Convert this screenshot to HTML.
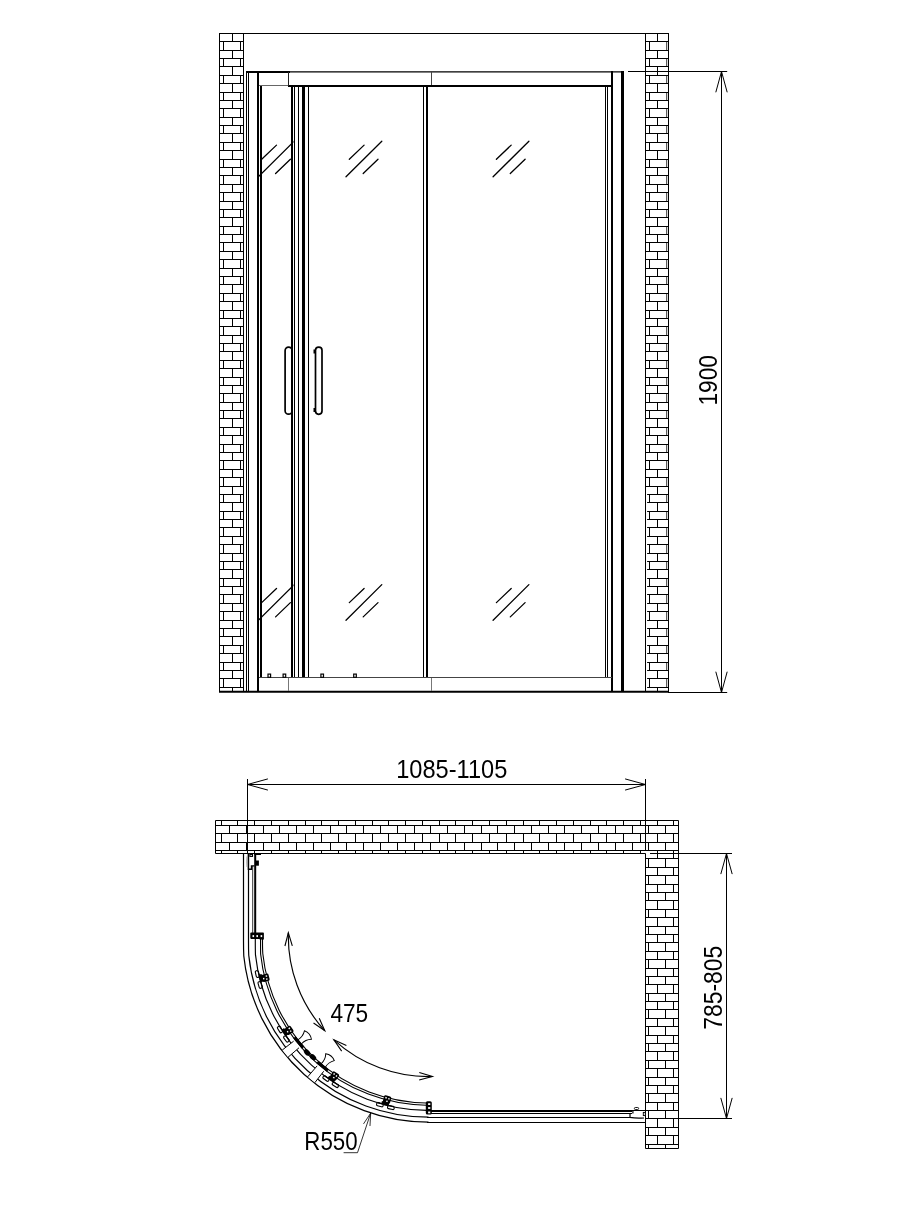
<!DOCTYPE html>
<html><head><meta charset="utf-8"><title>Shower enclosure drawing</title>
<style>html,body{margin:0;padding:0;background:#fff}svg{display:block;filter:grayscale(1)}text{font-family:"Liberation Sans",sans-serif;fill:#000}</style>
</head><body>
<svg width="914" height="1217" viewBox="0 0 914 1217">
<rect width="914" height="1217" fill="#fff"/>
<path d="M219 41.5H244M645 41.5H669M219 50.5H244M645 50.5H669M219 58.5H244M645 58.5H669M219 66.5H244M645 66.5H669M219 75.5H244M645 75.5H669M219 83.5H244M645 83.5H669M219 92.5H244M645 92.5H669M219 100.5H244M645 100.5H669M219 108.5H244M645 108.5H669M219 117.5H244M645 117.5H669M219 125.5H244M645 125.5H669M219 133.5H244M645 133.5H669M219 142.5H244M645 142.5H669M219 150.5H244M645 150.5H669M219 159.5H244M645 159.5H669M219 167.5H244M645 167.5H669M219 175.5H244M645 175.5H669M219 184.5H244M645 184.5H669M219 192.5H244M645 192.5H669M219 201.5H244M645 201.5H669M219 209.5H244M645 209.5H669M219 217.5H244M645 217.5H669M219 226.5H244M645 226.5H669M219 234.5H244M645 234.5H669M219 242.5H244M645 242.5H669M219 251.5H244M645 251.5H669M219 259.5H244M645 259.5H669M219 268.5H244M645 268.5H669M219 276.5H244M645 276.5H669M219 284.5H244M645 284.5H669M219 293.5H244M645 293.5H669M219 301.5H244M645 301.5H669M219 310.5H244M645 310.5H669M219 318.5H244M645 318.5H669M219 326.5H244M645 326.5H669M219 335.5H244M645 335.5H669M219 343.5H244M645 343.5H669M219 351.5H244M645 351.5H669M219 360.5H244M645 360.5H669M219 368.5H244M645 368.5H669M219 377.5H244M645 377.5H669M219 385.5H244M645 385.5H669M219 393.5H244M645 393.5H669M219 402.5H244M645 402.5H669M219 410.5H244M645 410.5H669M219 418.5H244M645 418.5H669M219 427.5H244M645 427.5H669M219 435.5H244M645 435.5H669M219 444.5H244M645 444.5H669M219 452.5H244M645 452.5H669M219 460.5H244M645 460.5H669M219 469.5H244M645 469.5H669M219 477.5H244M645 477.5H669M219 486.5H244M645 486.5H669M219 494.5H244M647.1 494.5H669M219 502.5H244M647.1 502.5H669M219 511.5H244M647.1 511.5H669M219 519.5H244M647.1 519.5H669M219 527.5H244M647.1 527.5H669M219 536.5H244M647.1 536.5H669M219 544.5H244M647.1 544.5H669M219 553.5H244M647.1 553.5H669M219 561.5H244M647.1 561.5H669M219 569.5H244M647.1 569.5H669M219 578.5H244M647.1 578.5H669M219 586.5H244M647.1 586.5H669M219 594.5H244M647.1 594.5H669M219 603.5H244M647.1 603.5H669M219 611.5H244M647.1 611.5H669M219 620.5H244M647.1 620.5H669M219 628.5H244M647.1 628.5H669M219 636.5H244M647.1 636.5H669M219 645.5H244M647.1 645.5H669M219 653.5H244M647.1 653.5H669M219 662.5H244M647.1 662.5H669M219 670.5H244M647.1 670.5H669M219 678.5H244M647.1 678.5H669M219 687.5H244M647.1 687.5H669M232.5 33V41M657.5 33V41M223.5 41V50M240.5 41V50M649.5 41V50M232.5 50V58M657.5 50V58M223.5 58V66M240.5 58V66M649.5 58V66M232.5 66V75M657.5 66V75M223.5 75V83M240.5 75V83M649.5 75V83M232.5 83V92M657.5 83V92M223.5 92V100M240.5 92V100M649.5 92V100M232.5 100V108M657.5 100V108M223.5 108V117M240.5 108V117M649.5 108V117M232.5 117V125M657.5 117V125M223.5 125V133M240.5 125V133M649.5 125V133M232.5 133V142M657.5 133V142M223.5 142V150M240.5 142V150M649.5 142V150M232.5 150V159M657.5 150V159M223.5 159V167M240.5 159V167M649.5 159V167M232.5 167V175M657.5 167V175M223.5 175V184M240.5 175V184M649.5 175V184M232.5 184V192M657.5 184V192M223.5 192V201M240.5 192V201M649.5 192V201M232.5 201V209M657.5 201V209M223.5 209V217M240.5 209V217M649.5 209V217M232.5 217V226M657.5 217V226M223.5 226V234M240.5 226V234M649.5 226V234M232.5 234V242M657.5 234V242M223.5 242V251M240.5 242V251M649.5 242V251M232.5 251V259M657.5 251V259M223.5 259V268M240.5 259V268M649.5 259V268M232.5 268V276M657.5 268V276M223.5 276V284M240.5 276V284M649.5 276V284M232.5 284V293M657.5 284V293M223.5 293V301M240.5 293V301M649.5 293V301M232.5 301V310M657.5 301V310M223.5 310V318M240.5 310V318M649.5 310V318M232.5 318V326M657.5 318V326M223.5 326V335M240.5 326V335M649.5 326V335M232.5 335V343M657.5 335V343M223.5 343V351M240.5 343V351M649.5 343V351M232.5 351V360M657.5 351V360M223.5 360V368M240.5 360V368M649.5 360V368M232.5 368V377M657.5 368V377M223.5 377V385M240.5 377V385M649.5 377V385M232.5 385V393M657.5 385V393M223.5 393V402M240.5 393V402M649.5 393V402M232.5 402V410M657.5 402V410M223.5 410V418M240.5 410V418M649.5 410V418M232.5 418V427M657.5 418V427M223.5 427V435M240.5 427V435M649.5 427V435M232.5 435V444M657.5 435V444M223.5 444V452M240.5 444V452M649.5 444V452M232.5 452V460M657.5 452V460M223.5 460V469M240.5 460V469M649.5 460V469M232.5 469V477M657.5 469V477M223.5 477V486M240.5 477V486M649.5 477V486M232.5 486V494M657.5 486V494M223.5 494V502M240.5 494V502M649.5 494V502M232.5 502V511M657.5 502V511M223.5 511V519M240.5 511V519M649.5 511V519M232.5 519V527M657.5 519V527M223.5 527V536M240.5 527V536M649.5 527V536M232.5 536V544M657.5 536V544M223.5 544V553M240.5 544V553M649.5 544V553M232.5 553V561M657.5 553V561M223.5 561V569M240.5 561V569M649.5 561V569M232.5 569V578M657.5 569V578M223.5 578V586M240.5 578V586M649.5 578V586M232.5 586V594M657.5 586V594M223.5 594V603M240.5 594V603M649.5 594V603M232.5 603V611M657.5 603V611M223.5 611V620M240.5 611V620M649.5 611V620M232.5 620V628M657.5 620V628M223.5 628V636M240.5 628V636M649.5 628V636M232.5 636V645M657.5 636V645M223.5 645V653M240.5 645V653M649.5 645V653M232.5 653V662M657.5 653V662M223.5 662V670M240.5 662V670M649.5 662V670M232.5 670V678M657.5 670V678M223.5 678V687M240.5 678V687M649.5 678V687M232.5 687V692M657.5 687V692" stroke="#000" stroke-width="1" fill="none" />
<path d="M666.7 41V50M666.7 58V66M666.7 75V83M666.7 92V100M666.7 108V117M666.7 125V133M666.7 142V150M666.7 159V167M666.7 175V184M666.7 192V201M666.7 209V217M666.7 226V234M666.7 242V251M666.7 259V268M666.7 276V284M666.7 293V301M666.7 310V318M666.7 326V335M666.7 343V351M666.7 360V368M666.7 377V385M666.7 393V402M666.7 410V418M666.7 427V435M666.7 444V452M666.7 460V469M666.7 477V486M666.7 494V502M666.7 511V519M666.7 527V536M666.7 544V553M666.7 561V569M666.7 578V586M666.7 594V603M666.7 611V620M666.7 628V636M666.7 645V653M666.7 662V670M666.7 678V687" stroke="#000" stroke-width="0.8" fill="none" />
<line x1="219.5" y1="33" x2="219.5" y2="692" stroke="#000" stroke-width="1" />
<line x1="243.5" y1="33" x2="243.5" y2="692" stroke="#000" stroke-width="1" />
<line x1="645.5" y1="33" x2="645.5" y2="692" stroke="#000" stroke-width="1" />
<line x1="668.5" y1="33" x2="668.5" y2="692" stroke="#000" stroke-width="1" />
<line x1="219" y1="33.5" x2="669" y2="33.5" stroke="#000" stroke-width="1" />
<line x1="219" y1="691.8" x2="669" y2="691.8" stroke="#000" stroke-width="2.1" />
<line x1="668" y1="692.5" x2="727.2" y2="692.5" stroke="#000" stroke-width="1" />
<line x1="246.5" y1="71" x2="246.5" y2="692" stroke="#000" stroke-width="1" />
<line x1="248.5" y1="71" x2="248.5" y2="692" stroke="#000" stroke-width="1" />
<line x1="258" y1="71" x2="258" y2="692" stroke="#000" stroke-width="2" />
<line x1="261" y1="86" x2="261" y2="677" stroke="#000" stroke-width="2" />
<line x1="292" y1="86" x2="292" y2="677.5" stroke="#000" stroke-width="2" />
<line x1="294.5" y1="86" x2="294.5" y2="677.5" stroke="#000" stroke-width="1" />
<line x1="298.5" y1="86" x2="298.5" y2="677.5" stroke="#000" stroke-width="1" />
<line x1="303.5" y1="86" x2="303.5" y2="677.5" stroke="#000" stroke-width="3" />
<line x1="308.5" y1="86" x2="308.5" y2="677.5" stroke="#000" stroke-width="1" />
<line x1="423.5" y1="86" x2="423.5" y2="677.5" stroke="#000" stroke-width="1" />
<line x1="427" y1="86" x2="427" y2="677.5" stroke="#000" stroke-width="2" />
<line x1="605.5" y1="86" x2="605.5" y2="677.5" stroke="#000" stroke-width="1" />
<line x1="607.5" y1="86" x2="607.5" y2="677.5" stroke="#000" stroke-width="1" />
<line x1="612" y1="71" x2="612" y2="692" stroke="#000" stroke-width="2" />
<line x1="622.5" y1="71" x2="622.5" y2="692" stroke="#000" stroke-width="3" />
<line x1="246" y1="72" x2="290" y2="72" stroke="#000" stroke-width="2" />
<line x1="289" y1="71.85" x2="624" y2="71.85" stroke="#000" stroke-width="1.3" />
<line x1="259" y1="85.5" x2="289" y2="85.5" stroke="#666" stroke-width="1" />
<line x1="288" y1="86" x2="613" y2="86" stroke="#000" stroke-width="2" />
<line x1="288.5" y1="72" x2="288.5" y2="86" stroke="#222" stroke-width="1" />
<line x1="431.5" y1="72" x2="431.5" y2="85" stroke="#444" stroke-width="1" />
<line x1="259" y1="677.5" x2="612" y2="677.5" stroke="#444" stroke-width="1" />
<line x1="288.5" y1="678" x2="288.5" y2="691" stroke="#777" stroke-width="1" />
<line x1="431.5" y1="678" x2="431.5" y2="691" stroke="#777" stroke-width="1" />
<rect x="268.00" y="674.10" width="2.6" height="3.2" fill="#fff" stroke="#000" stroke-width="1.2"/>
<rect x="283.10" y="674.10" width="2.6" height="3.2" fill="#fff" stroke="#000" stroke-width="1.2"/>
<rect x="320.90" y="674.10" width="2.6" height="3.2" fill="#fff" stroke="#000" stroke-width="1.2"/>
<rect x="353.70" y="674.10" width="2.6" height="3.2" fill="#fff" stroke="#000" stroke-width="1.2"/>
<rect x="285.1" y="347.2" width="7" height="67.0" rx="3.5" ry="3.5" fill="none" stroke="#000" stroke-width="1.7"/>
<rect x="315.5" y="347.1" width="6.5" height="67.2" rx="3.25" ry="3.25" fill="none" stroke="#000" stroke-width="1.7"/>
<path d="M314.3 349.5V353.5M314.3 408V412" stroke="#000" stroke-width="1.6" fill="none" />
<clipPath id="cl"><rect x="259" y="100" width="34.5" height="560"/></clipPath>
<path d="M261.70 159.20L276.50 145.10M258.40 176.80L294.20 141.20M275.60 173.50L290.40 159.20" stroke="#000" stroke-width="1.3" fill="none" clip-path="url(#cl)" stroke-linecap="round"/>
<path d="M349.30 159.20L364.10 145.10M346.00 176.80L381.80 141.20M363.20 173.50L378.00 159.20" stroke="#000" stroke-width="1.3" fill="none"  stroke-linecap="round"/>
<path d="M496.40 159.20L511.20 145.10M493.10 176.80L528.90 141.20M510.30 173.50L525.10 159.20" stroke="#000" stroke-width="1.3" fill="none"  stroke-linecap="round"/>
<path d="M261.70 602.60L276.50 588.50M258.40 620.20L294.20 584.60M275.60 616.90L290.40 602.60" stroke="#000" stroke-width="1.3" fill="none" clip-path="url(#cl)" stroke-linecap="round"/>
<path d="M349.30 602.60L364.10 588.50M346.00 620.20L381.80 584.60M363.20 616.90L378.00 602.60" stroke="#000" stroke-width="1.3" fill="none"  stroke-linecap="round"/>
<path d="M496.40 602.60L511.20 588.50M493.10 620.20L528.90 584.60M510.30 616.90L525.10 602.60" stroke="#000" stroke-width="1.3" fill="none"  stroke-linecap="round"/>
<line x1="628" y1="71.5" x2="727.2" y2="71.5" stroke="#000" stroke-width="1" />
<line x1="721.5" y1="71" x2="721.5" y2="692" stroke="#000" stroke-width="1" />
<path d="M727.20 92.30L721.50 71.50L715.80 92.30" stroke="#000" stroke-width="1" fill="none" stroke-linejoin="miter"/>
<path d="M715.80 671.70L721.50 692.50L727.20 671.70" stroke="#000" stroke-width="1" fill="none" stroke-linejoin="miter"/>
<text transform="translate(717.20 405.60) rotate(-90) scale(0.907 1)" font-size="25.1">1900</text>
<clipPath id="wl"><path d="M215 820H679V1149H645V854H215Z"/></clipPath>
<path d="M215 825.5H679M215 833.5H679M215 842.5H679M215 850.5H679M215 858.5H679M215 867.5H679M215 875.5H679M215 884.5H679M215 892.5H679M215 900.5H679M215 909.5H679M215 917.5H679M215 926.5H679M215 934.5H679M215 942.5H679M215 951.5H679M215 959.5H679M215 968.5H679M215 976.5H679M215 984.5H679M215 993.5H679M215 1001.5H679M215 1009.5H679M215 1018.5H679M215 1026.5H679M215 1035.5H679M215 1043.5H679M215 1051.5H679M215 1060.5H679M215 1068.5H679M215 1077.5H679M215 1085.5H679M215 1093.5H679M215 1102.5H679M215 1110.5H679M215 1118.5H679M215 1127.5H679M215 1135.5H679M215 1144.5H679M187.5 820V825M204.5 820V825M221.5 820V825M237.5 820V825M254.5 820V825M271.5 820V825M288.5 820V825M305.5 820V825M321.5 820V825M338.5 820V825M355.5 820V825M372.5 820V825M388.5 820V825M405.5 820V825M422.5 820V825M439.5 820V825M455.5 820V825M472.5 820V825M489.5 820V825M506.5 820V825M523.5 820V825M539.5 820V825M556.5 820V825M573.5 820V825M590.5 820V825M606.5 820V825M623.5 820V825M640.5 820V825M657.5 820V825M673.5 820V825M690.5 820V825M195.5 825V833M212.5 825V833M229.5 825V833M246.5 825V833M263.5 825V833M279.5 825V833M296.5 825V833M313.5 825V833M330.5 825V833M346.5 825V833M363.5 825V833M380.5 825V833M397.5 825V833M414.5 825V833M430.5 825V833M447.5 825V833M464.5 825V833M481.5 825V833M497.5 825V833M514.5 825V833M531.5 825V833M548.5 825V833M564.5 825V833M581.5 825V833M598.5 825V833M615.5 825V833M632.5 825V833M648.5 825V833M665.5 825V833M682.5 825V833M187.5 833V842M204.5 833V842M221.5 833V842M237.5 833V842M254.5 833V842M271.5 833V842M288.5 833V842M305.5 833V842M321.5 833V842M338.5 833V842M355.5 833V842M372.5 833V842M388.5 833V842M405.5 833V842M422.5 833V842M439.5 833V842M455.5 833V842M472.5 833V842M489.5 833V842M506.5 833V842M523.5 833V842M539.5 833V842M556.5 833V842M573.5 833V842M590.5 833V842M606.5 833V842M623.5 833V842M640.5 833V842M657.5 833V842M673.5 833V842M690.5 833V842M195.5 842V850M212.5 842V850M229.5 842V850M246.5 842V850M263.5 842V850M279.5 842V850M296.5 842V850M313.5 842V850M330.5 842V850M346.5 842V850M363.5 842V850M380.5 842V850M397.5 842V850M414.5 842V850M430.5 842V850M447.5 842V850M464.5 842V850M481.5 842V850M497.5 842V850M514.5 842V850M531.5 842V850M548.5 842V850M564.5 842V850M581.5 842V850M598.5 842V850M615.5 842V850M632.5 842V850M648.5 842V850M665.5 842V850M682.5 842V850M187.5 850V858M204.5 850V858M221.5 850V858M237.5 850V858M254.5 850V858M271.5 850V858M288.5 850V858M305.5 850V858M321.5 850V858M338.5 850V858M355.5 850V858M372.5 850V858M388.5 850V858M405.5 850V858M422.5 850V858M439.5 850V858M455.5 850V858M472.5 850V858M489.5 850V858M506.5 850V858M523.5 850V858M539.5 850V858M556.5 850V858M573.5 850V858M590.5 850V858M606.5 850V858M623.5 850V858M640.5 850V858M657.5 850V858M673.5 850V858M690.5 850V858M195.5 858V867M212.5 858V867M229.5 858V867M246.5 858V867M263.5 858V867M279.5 858V867M296.5 858V867M313.5 858V867M330.5 858V867M346.5 858V867M363.5 858V867M380.5 858V867M397.5 858V867M414.5 858V867M430.5 858V867M447.5 858V867M464.5 858V867M481.5 858V867M497.5 858V867M514.5 858V867M531.5 858V867M548.5 858V867M564.5 858V867M581.5 858V867M598.5 858V867M615.5 858V867M632.5 858V867M648.5 858V867M665.5 858V867M682.5 858V867M187.5 867V875M204.5 867V875M221.5 867V875M237.5 867V875M254.5 867V875M271.5 867V875M288.5 867V875M305.5 867V875M321.5 867V875M338.5 867V875M355.5 867V875M372.5 867V875M388.5 867V875M405.5 867V875M422.5 867V875M439.5 867V875M455.5 867V875M472.5 867V875M489.5 867V875M506.5 867V875M523.5 867V875M539.5 867V875M556.5 867V875M573.5 867V875M590.5 867V875M606.5 867V875M623.5 867V875M640.5 867V875M657.5 867V875M673.5 867V875M690.5 867V875M195.5 875V884M212.5 875V884M229.5 875V884M246.5 875V884M263.5 875V884M279.5 875V884M296.5 875V884M313.5 875V884M330.5 875V884M346.5 875V884M363.5 875V884M380.5 875V884M397.5 875V884M414.5 875V884M430.5 875V884M447.5 875V884M464.5 875V884M481.5 875V884M497.5 875V884M514.5 875V884M531.5 875V884M548.5 875V884M564.5 875V884M581.5 875V884M598.5 875V884M615.5 875V884M632.5 875V884M648.5 875V884M665.5 875V884M682.5 875V884M187.5 884V892M204.5 884V892M221.5 884V892M237.5 884V892M254.5 884V892M271.5 884V892M288.5 884V892M305.5 884V892M321.5 884V892M338.5 884V892M355.5 884V892M372.5 884V892M388.5 884V892M405.5 884V892M422.5 884V892M439.5 884V892M455.5 884V892M472.5 884V892M489.5 884V892M506.5 884V892M523.5 884V892M539.5 884V892M556.5 884V892M573.5 884V892M590.5 884V892M606.5 884V892M623.5 884V892M640.5 884V892M657.5 884V892M673.5 884V892M690.5 884V892M195.5 892V900M212.5 892V900M229.5 892V900M246.5 892V900M263.5 892V900M279.5 892V900M296.5 892V900M313.5 892V900M330.5 892V900M346.5 892V900M363.5 892V900M380.5 892V900M397.5 892V900M414.5 892V900M430.5 892V900M447.5 892V900M464.5 892V900M481.5 892V900M497.5 892V900M514.5 892V900M531.5 892V900M548.5 892V900M564.5 892V900M581.5 892V900M598.5 892V900M615.5 892V900M632.5 892V900M648.5 892V900M665.5 892V900M682.5 892V900M187.5 900V909M204.5 900V909M221.5 900V909M237.5 900V909M254.5 900V909M271.5 900V909M288.5 900V909M305.5 900V909M321.5 900V909M338.5 900V909M355.5 900V909M372.5 900V909M388.5 900V909M405.5 900V909M422.5 900V909M439.5 900V909M455.5 900V909M472.5 900V909M489.5 900V909M506.5 900V909M523.5 900V909M539.5 900V909M556.5 900V909M573.5 900V909M590.5 900V909M606.5 900V909M623.5 900V909M640.5 900V909M657.5 900V909M673.5 900V909M690.5 900V909M195.5 909V917M212.5 909V917M229.5 909V917M246.5 909V917M263.5 909V917M279.5 909V917M296.5 909V917M313.5 909V917M330.5 909V917M346.5 909V917M363.5 909V917M380.5 909V917M397.5 909V917M414.5 909V917M430.5 909V917M447.5 909V917M464.5 909V917M481.5 909V917M497.5 909V917M514.5 909V917M531.5 909V917M548.5 909V917M564.5 909V917M581.5 909V917M598.5 909V917M615.5 909V917M632.5 909V917M648.5 909V917M665.5 909V917M682.5 909V917M187.5 917V926M204.5 917V926M221.5 917V926M237.5 917V926M254.5 917V926M271.5 917V926M288.5 917V926M305.5 917V926M321.5 917V926M338.5 917V926M355.5 917V926M372.5 917V926M388.5 917V926M405.5 917V926M422.5 917V926M439.5 917V926M455.5 917V926M472.5 917V926M489.5 917V926M506.5 917V926M523.5 917V926M539.5 917V926M556.5 917V926M573.5 917V926M590.5 917V926M606.5 917V926M623.5 917V926M640.5 917V926M657.5 917V926M673.5 917V926M690.5 917V926M195.5 926V934M212.5 926V934M229.5 926V934M246.5 926V934M263.5 926V934M279.5 926V934M296.5 926V934M313.5 926V934M330.5 926V934M346.5 926V934M363.5 926V934M380.5 926V934M397.5 926V934M414.5 926V934M430.5 926V934M447.5 926V934M464.5 926V934M481.5 926V934M497.5 926V934M514.5 926V934M531.5 926V934M548.5 926V934M564.5 926V934M581.5 926V934M598.5 926V934M615.5 926V934M632.5 926V934M648.5 926V934M665.5 926V934M682.5 926V934M187.5 934V942M204.5 934V942M221.5 934V942M237.5 934V942M254.5 934V942M271.5 934V942M288.5 934V942M305.5 934V942M321.5 934V942M338.5 934V942M355.5 934V942M372.5 934V942M388.5 934V942M405.5 934V942M422.5 934V942M439.5 934V942M455.5 934V942M472.5 934V942M489.5 934V942M506.5 934V942M523.5 934V942M539.5 934V942M556.5 934V942M573.5 934V942M590.5 934V942M606.5 934V942M623.5 934V942M640.5 934V942M657.5 934V942M673.5 934V942M690.5 934V942M195.5 942V951M212.5 942V951M229.5 942V951M246.5 942V951M263.5 942V951M279.5 942V951M296.5 942V951M313.5 942V951M330.5 942V951M346.5 942V951M363.5 942V951M380.5 942V951M397.5 942V951M414.5 942V951M430.5 942V951M447.5 942V951M464.5 942V951M481.5 942V951M497.5 942V951M514.5 942V951M531.5 942V951M548.5 942V951M564.5 942V951M581.5 942V951M598.5 942V951M615.5 942V951M632.5 942V951M648.5 942V951M665.5 942V951M682.5 942V951M187.5 951V959M204.5 951V959M221.5 951V959M237.5 951V959M254.5 951V959M271.5 951V959M288.5 951V959M305.5 951V959M321.5 951V959M338.5 951V959M355.5 951V959M372.5 951V959M388.5 951V959M405.5 951V959M422.5 951V959M439.5 951V959M455.5 951V959M472.5 951V959M489.5 951V959M506.5 951V959M523.5 951V959M539.5 951V959M556.5 951V959M573.5 951V959M590.5 951V959M606.5 951V959M623.5 951V959M640.5 951V959M657.5 951V959M673.5 951V959M690.5 951V959M195.5 959V968M212.5 959V968M229.5 959V968M246.5 959V968M263.5 959V968M279.5 959V968M296.5 959V968M313.5 959V968M330.5 959V968M346.5 959V968M363.5 959V968M380.5 959V968M397.5 959V968M414.5 959V968M430.5 959V968M447.5 959V968M464.5 959V968M481.5 959V968M497.5 959V968M514.5 959V968M531.5 959V968M548.5 959V968M564.5 959V968M581.5 959V968M598.5 959V968M615.5 959V968M632.5 959V968M648.5 959V968M665.5 959V968M682.5 959V968M187.5 968V976M204.5 968V976M221.5 968V976M237.5 968V976M254.5 968V976M271.5 968V976M288.5 968V976M305.5 968V976M321.5 968V976M338.5 968V976M355.5 968V976M372.5 968V976M388.5 968V976M405.5 968V976M422.5 968V976M439.5 968V976M455.5 968V976M472.5 968V976M489.5 968V976M506.5 968V976M523.5 968V976M539.5 968V976M556.5 968V976M573.5 968V976M590.5 968V976M606.5 968V976M623.5 968V976M640.5 968V976M657.5 968V976M673.5 968V976M690.5 968V976M195.5 976V984M212.5 976V984M229.5 976V984M246.5 976V984M263.5 976V984M279.5 976V984M296.5 976V984M313.5 976V984M330.5 976V984M346.5 976V984M363.5 976V984M380.5 976V984M397.5 976V984M414.5 976V984M430.5 976V984M447.5 976V984M464.5 976V984M481.5 976V984M497.5 976V984M514.5 976V984M531.5 976V984M548.5 976V984M564.5 976V984M581.5 976V984M598.5 976V984M615.5 976V984M632.5 976V984M648.5 976V984M665.5 976V984M682.5 976V984M187.5 984V993M204.5 984V993M221.5 984V993M237.5 984V993M254.5 984V993M271.5 984V993M288.5 984V993M305.5 984V993M321.5 984V993M338.5 984V993M355.5 984V993M372.5 984V993M388.5 984V993M405.5 984V993M422.5 984V993M439.5 984V993M455.5 984V993M472.5 984V993M489.5 984V993M506.5 984V993M523.5 984V993M539.5 984V993M556.5 984V993M573.5 984V993M590.5 984V993M606.5 984V993M623.5 984V993M640.5 984V993M657.5 984V993M673.5 984V993M690.5 984V993M195.5 993V1001M212.5 993V1001M229.5 993V1001M246.5 993V1001M263.5 993V1001M279.5 993V1001M296.5 993V1001M313.5 993V1001M330.5 993V1001M346.5 993V1001M363.5 993V1001M380.5 993V1001M397.5 993V1001M414.5 993V1001M430.5 993V1001M447.5 993V1001M464.5 993V1001M481.5 993V1001M497.5 993V1001M514.5 993V1001M531.5 993V1001M548.5 993V1001M564.5 993V1001M581.5 993V1001M598.5 993V1001M615.5 993V1001M632.5 993V1001M648.5 993V1001M665.5 993V1001M682.5 993V1001M187.5 1001V1009M204.5 1001V1009M221.5 1001V1009M237.5 1001V1009M254.5 1001V1009M271.5 1001V1009M288.5 1001V1009M305.5 1001V1009M321.5 1001V1009M338.5 1001V1009M355.5 1001V1009M372.5 1001V1009M388.5 1001V1009M405.5 1001V1009M422.5 1001V1009M439.5 1001V1009M455.5 1001V1009M472.5 1001V1009M489.5 1001V1009M506.5 1001V1009M523.5 1001V1009M539.5 1001V1009M556.5 1001V1009M573.5 1001V1009M590.5 1001V1009M606.5 1001V1009M623.5 1001V1009M640.5 1001V1009M657.5 1001V1009M673.5 1001V1009M690.5 1001V1009M195.5 1009V1018M212.5 1009V1018M229.5 1009V1018M246.5 1009V1018M263.5 1009V1018M279.5 1009V1018M296.5 1009V1018M313.5 1009V1018M330.5 1009V1018M346.5 1009V1018M363.5 1009V1018M380.5 1009V1018M397.5 1009V1018M414.5 1009V1018M430.5 1009V1018M447.5 1009V1018M464.5 1009V1018M481.5 1009V1018M497.5 1009V1018M514.5 1009V1018M531.5 1009V1018M548.5 1009V1018M564.5 1009V1018M581.5 1009V1018M598.5 1009V1018M615.5 1009V1018M632.5 1009V1018M648.5 1009V1018M665.5 1009V1018M682.5 1009V1018M187.5 1018V1026M204.5 1018V1026M221.5 1018V1026M237.5 1018V1026M254.5 1018V1026M271.5 1018V1026M288.5 1018V1026M305.5 1018V1026M321.5 1018V1026M338.5 1018V1026M355.5 1018V1026M372.5 1018V1026M388.5 1018V1026M405.5 1018V1026M422.5 1018V1026M439.5 1018V1026M455.5 1018V1026M472.5 1018V1026M489.5 1018V1026M506.5 1018V1026M523.5 1018V1026M539.5 1018V1026M556.5 1018V1026M573.5 1018V1026M590.5 1018V1026M606.5 1018V1026M623.5 1018V1026M640.5 1018V1026M657.5 1018V1026M673.5 1018V1026M690.5 1018V1026M195.5 1026V1035M212.5 1026V1035M229.5 1026V1035M246.5 1026V1035M263.5 1026V1035M279.5 1026V1035M296.5 1026V1035M313.5 1026V1035M330.5 1026V1035M346.5 1026V1035M363.5 1026V1035M380.5 1026V1035M397.5 1026V1035M414.5 1026V1035M430.5 1026V1035M447.5 1026V1035M464.5 1026V1035M481.5 1026V1035M497.5 1026V1035M514.5 1026V1035M531.5 1026V1035M548.5 1026V1035M564.5 1026V1035M581.5 1026V1035M598.5 1026V1035M615.5 1026V1035M632.5 1026V1035M648.5 1026V1035M665.5 1026V1035M682.5 1026V1035M187.5 1035V1043M204.5 1035V1043M221.5 1035V1043M237.5 1035V1043M254.5 1035V1043M271.5 1035V1043M288.5 1035V1043M305.5 1035V1043M321.5 1035V1043M338.5 1035V1043M355.5 1035V1043M372.5 1035V1043M388.5 1035V1043M405.5 1035V1043M422.5 1035V1043M439.5 1035V1043M455.5 1035V1043M472.5 1035V1043M489.5 1035V1043M506.5 1035V1043M523.5 1035V1043M539.5 1035V1043M556.5 1035V1043M573.5 1035V1043M590.5 1035V1043M606.5 1035V1043M623.5 1035V1043M640.5 1035V1043M657.5 1035V1043M673.5 1035V1043M690.5 1035V1043M195.5 1043V1051M212.5 1043V1051M229.5 1043V1051M246.5 1043V1051M263.5 1043V1051M279.5 1043V1051M296.5 1043V1051M313.5 1043V1051M330.5 1043V1051M346.5 1043V1051M363.5 1043V1051M380.5 1043V1051M397.5 1043V1051M414.5 1043V1051M430.5 1043V1051M447.5 1043V1051M464.5 1043V1051M481.5 1043V1051M497.5 1043V1051M514.5 1043V1051M531.5 1043V1051M548.5 1043V1051M564.5 1043V1051M581.5 1043V1051M598.5 1043V1051M615.5 1043V1051M632.5 1043V1051M648.5 1043V1051M665.5 1043V1051M682.5 1043V1051M187.5 1051V1060M204.5 1051V1060M221.5 1051V1060M237.5 1051V1060M254.5 1051V1060M271.5 1051V1060M288.5 1051V1060M305.5 1051V1060M321.5 1051V1060M338.5 1051V1060M355.5 1051V1060M372.5 1051V1060M388.5 1051V1060M405.5 1051V1060M422.5 1051V1060M439.5 1051V1060M455.5 1051V1060M472.5 1051V1060M489.5 1051V1060M506.5 1051V1060M523.5 1051V1060M539.5 1051V1060M556.5 1051V1060M573.5 1051V1060M590.5 1051V1060M606.5 1051V1060M623.5 1051V1060M640.5 1051V1060M657.5 1051V1060M673.5 1051V1060M690.5 1051V1060M195.5 1060V1068M212.5 1060V1068M229.5 1060V1068M246.5 1060V1068M263.5 1060V1068M279.5 1060V1068M296.5 1060V1068M313.5 1060V1068M330.5 1060V1068M346.5 1060V1068M363.5 1060V1068M380.5 1060V1068M397.5 1060V1068M414.5 1060V1068M430.5 1060V1068M447.5 1060V1068M464.5 1060V1068M481.5 1060V1068M497.5 1060V1068M514.5 1060V1068M531.5 1060V1068M548.5 1060V1068M564.5 1060V1068M581.5 1060V1068M598.5 1060V1068M615.5 1060V1068M632.5 1060V1068M648.5 1060V1068M665.5 1060V1068M682.5 1060V1068M187.5 1068V1077M204.5 1068V1077M221.5 1068V1077M237.5 1068V1077M254.5 1068V1077M271.5 1068V1077M288.5 1068V1077M305.5 1068V1077M321.5 1068V1077M338.5 1068V1077M355.5 1068V1077M372.5 1068V1077M388.5 1068V1077M405.5 1068V1077M422.5 1068V1077M439.5 1068V1077M455.5 1068V1077M472.5 1068V1077M489.5 1068V1077M506.5 1068V1077M523.5 1068V1077M539.5 1068V1077M556.5 1068V1077M573.5 1068V1077M590.5 1068V1077M606.5 1068V1077M623.5 1068V1077M640.5 1068V1077M657.5 1068V1077M673.5 1068V1077M690.5 1068V1077M195.5 1077V1085M212.5 1077V1085M229.5 1077V1085M246.5 1077V1085M263.5 1077V1085M279.5 1077V1085M296.5 1077V1085M313.5 1077V1085M330.5 1077V1085M346.5 1077V1085M363.5 1077V1085M380.5 1077V1085M397.5 1077V1085M414.5 1077V1085M430.5 1077V1085M447.5 1077V1085M464.5 1077V1085M481.5 1077V1085M497.5 1077V1085M514.5 1077V1085M531.5 1077V1085M548.5 1077V1085M564.5 1077V1085M581.5 1077V1085M598.5 1077V1085M615.5 1077V1085M632.5 1077V1085M648.5 1077V1085M665.5 1077V1085M682.5 1077V1085M187.5 1085V1093M204.5 1085V1093M221.5 1085V1093M237.5 1085V1093M254.5 1085V1093M271.5 1085V1093M288.5 1085V1093M305.5 1085V1093M321.5 1085V1093M338.5 1085V1093M355.5 1085V1093M372.5 1085V1093M388.5 1085V1093M405.5 1085V1093M422.5 1085V1093M439.5 1085V1093M455.5 1085V1093M472.5 1085V1093M489.5 1085V1093M506.5 1085V1093M523.5 1085V1093M539.5 1085V1093M556.5 1085V1093M573.5 1085V1093M590.5 1085V1093M606.5 1085V1093M623.5 1085V1093M640.5 1085V1093M657.5 1085V1093M673.5 1085V1093M690.5 1085V1093M195.5 1093V1102M212.5 1093V1102M229.5 1093V1102M246.5 1093V1102M263.5 1093V1102M279.5 1093V1102M296.5 1093V1102M313.5 1093V1102M330.5 1093V1102M346.5 1093V1102M363.5 1093V1102M380.5 1093V1102M397.5 1093V1102M414.5 1093V1102M430.5 1093V1102M447.5 1093V1102M464.5 1093V1102M481.5 1093V1102M497.5 1093V1102M514.5 1093V1102M531.5 1093V1102M548.5 1093V1102M564.5 1093V1102M581.5 1093V1102M598.5 1093V1102M615.5 1093V1102M632.5 1093V1102M648.5 1093V1102M665.5 1093V1102M682.5 1093V1102M187.5 1102V1110M204.5 1102V1110M221.5 1102V1110M237.5 1102V1110M254.5 1102V1110M271.5 1102V1110M288.5 1102V1110M305.5 1102V1110M321.5 1102V1110M338.5 1102V1110M355.5 1102V1110M372.5 1102V1110M388.5 1102V1110M405.5 1102V1110M422.5 1102V1110M439.5 1102V1110M455.5 1102V1110M472.5 1102V1110M489.5 1102V1110M506.5 1102V1110M523.5 1102V1110M539.5 1102V1110M556.5 1102V1110M573.5 1102V1110M590.5 1102V1110M606.5 1102V1110M623.5 1102V1110M640.5 1102V1110M657.5 1102V1110M673.5 1102V1110M690.5 1102V1110M195.5 1110V1118M212.5 1110V1118M229.5 1110V1118M246.5 1110V1118M263.5 1110V1118M279.5 1110V1118M296.5 1110V1118M313.5 1110V1118M330.5 1110V1118M346.5 1110V1118M363.5 1110V1118M380.5 1110V1118M397.5 1110V1118M414.5 1110V1118M430.5 1110V1118M447.5 1110V1118M464.5 1110V1118M481.5 1110V1118M497.5 1110V1118M514.5 1110V1118M531.5 1110V1118M548.5 1110V1118M564.5 1110V1118M581.5 1110V1118M598.5 1110V1118M615.5 1110V1118M632.5 1110V1118M648.5 1110V1118M665.5 1110V1118M682.5 1110V1118M187.5 1118V1127M204.5 1118V1127M221.5 1118V1127M237.5 1118V1127M254.5 1118V1127M271.5 1118V1127M288.5 1118V1127M305.5 1118V1127M321.5 1118V1127M338.5 1118V1127M355.5 1118V1127M372.5 1118V1127M388.5 1118V1127M405.5 1118V1127M422.5 1118V1127M439.5 1118V1127M455.5 1118V1127M472.5 1118V1127M489.5 1118V1127M506.5 1118V1127M523.5 1118V1127M539.5 1118V1127M556.5 1118V1127M573.5 1118V1127M590.5 1118V1127M606.5 1118V1127M623.5 1118V1127M640.5 1118V1127M657.5 1118V1127M673.5 1118V1127M690.5 1118V1127M195.5 1127V1135M212.5 1127V1135M229.5 1127V1135M246.5 1127V1135M263.5 1127V1135M279.5 1127V1135M296.5 1127V1135M313.5 1127V1135M330.5 1127V1135M346.5 1127V1135M363.5 1127V1135M380.5 1127V1135M397.5 1127V1135M414.5 1127V1135M430.5 1127V1135M447.5 1127V1135M464.5 1127V1135M481.5 1127V1135M497.5 1127V1135M514.5 1127V1135M531.5 1127V1135M548.5 1127V1135M564.5 1127V1135M581.5 1127V1135M598.5 1127V1135M615.5 1127V1135M632.5 1127V1135M648.5 1127V1135M665.5 1127V1135M682.5 1127V1135M187.5 1135V1144M204.5 1135V1144M221.5 1135V1144M237.5 1135V1144M254.5 1135V1144M271.5 1135V1144M288.5 1135V1144M305.5 1135V1144M321.5 1135V1144M338.5 1135V1144M355.5 1135V1144M372.5 1135V1144M388.5 1135V1144M405.5 1135V1144M422.5 1135V1144M439.5 1135V1144M455.5 1135V1144M472.5 1135V1144M489.5 1135V1144M506.5 1135V1144M523.5 1135V1144M539.5 1135V1144M556.5 1135V1144M573.5 1135V1144M590.5 1135V1144M606.5 1135V1144M623.5 1135V1144M640.5 1135V1144M657.5 1135V1144M673.5 1135V1144M690.5 1135V1144M195.5 1144V1152M212.5 1144V1152M229.5 1144V1152M246.5 1144V1152M263.5 1144V1152M279.5 1144V1152M296.5 1144V1152M313.5 1144V1152M330.5 1144V1152M346.5 1144V1152M363.5 1144V1152M380.5 1144V1152M397.5 1144V1152M414.5 1144V1152M430.5 1144V1152M447.5 1144V1152M464.5 1144V1152M481.5 1144V1152M497.5 1144V1152M514.5 1144V1152M531.5 1144V1152M548.5 1144V1152M564.5 1144V1152M581.5 1144V1152M598.5 1144V1152M615.5 1144V1152M632.5 1144V1152M648.5 1144V1152M665.5 1144V1152M682.5 1144V1152M187.5 1152V1160M204.5 1152V1160M221.5 1152V1160M237.5 1152V1160M254.5 1152V1160M271.5 1152V1160M288.5 1152V1160M305.5 1152V1160M321.5 1152V1160M338.5 1152V1160M355.5 1152V1160M372.5 1152V1160M388.5 1152V1160M405.5 1152V1160M422.5 1152V1160M439.5 1152V1160M455.5 1152V1160M472.5 1152V1160M489.5 1152V1160M506.5 1152V1160M523.5 1152V1160M539.5 1152V1160M556.5 1152V1160M573.5 1152V1160M590.5 1152V1160M606.5 1152V1160M623.5 1152V1160M640.5 1152V1160M657.5 1152V1160M673.5 1152V1160M690.5 1152V1160" stroke="#000" stroke-width="1" fill="none" clip-path="url(#wl)"/>
<path d="M215.5 820.5H678.5V1148.5H645.5V853.5H215.5Z" stroke="#000" stroke-width="1" fill="none" />
<line x1="247.5" y1="779" x2="247.5" y2="854" stroke="#000" stroke-width="1" />
<line x1="645.5" y1="779" x2="645.5" y2="850" stroke="#000" stroke-width="1" />
<line x1="247" y1="784.5" x2="646" y2="784.5" stroke="#000" stroke-width="1" />
<path d="M267.90 778.90L247.50 784.50L267.90 790.10" stroke="#000" stroke-width="1" fill="none" stroke-linejoin="miter"/>
<path d="M625.10 790.10L645.50 784.50L625.10 778.90" stroke="#000" stroke-width="1" fill="none" stroke-linejoin="miter"/>
<text transform="translate(396.20 777.80) scale(0.941 1)" font-size="25.1">1085-1105</text>
<line x1="650" y1="853.5" x2="732" y2="853.5" stroke="#000" stroke-width="1" />
<line x1="679" y1="1118.5" x2="732" y2="1118.5" stroke="#000" stroke-width="1" />
<line x1="726.5" y1="853" x2="726.5" y2="1119" stroke="#000" stroke-width="1" />
<path d="M732.20 874.10L726.50 853.50L720.80 874.10" stroke="#000" stroke-width="1" fill="none" stroke-linejoin="miter"/>
<path d="M720.80 1097.90L726.50 1118.50L732.20 1097.90" stroke="#000" stroke-width="1" fill="none" stroke-linejoin="miter"/>
<text transform="translate(721.80 1029.80) rotate(-90) scale(0.912 1)" font-size="25.1">785-805</text>
<path d="M243.50 854.00V940.40Q243.50 949.40 243.77 955.82A185.75 185.75 0 0 0 428.50 1122.15" stroke="#000" stroke-width="1.2" fill="none" />
<path d="M248.50 854.00V940.40Q248.50 949.40 248.74 955.29A180.75 180.75 0 0 0 428.50 1117.15" stroke="#000" stroke-width="1.2" fill="none" />
<path d="M255.30 939.00V940.40Q255.30 949.40 255.45 954.59A174.00 174.00 0 0 0 426.98 1110.39" stroke="#000" stroke-width="1.15" fill="none" />
<path d="M260.55 939.00V940.40Q260.55 949.40 260.62 954.04A168.80 168.80 0 0 0 426.14 1105.18" stroke="#000" stroke-width="1.1" fill="none" />
<path d="M262.50 939.00V940.40Q262.50 949.40 262.81 953.81A166.60 166.60 0 0 0 426.17 1102.98" stroke="#000" stroke-width="1.1" fill="none" />
<line x1="252.7" y1="866" x2="252.7" y2="933" stroke="#000" stroke-width="0.8" />
<line x1="255.2" y1="854" x2="255.2" y2="934" stroke="#000" stroke-width="2" />
<line x1="427" y1="1111" x2="632" y2="1111" stroke="#000" stroke-width="1.8" />
<line x1="427" y1="1113.5" x2="632" y2="1113.5" stroke="#000" stroke-width="1" />
<line x1="427" y1="1117.5" x2="630.5" y2="1117.5" stroke="#000" stroke-width="1" />
<line x1="427" y1="1122.5" x2="645" y2="1122.5" stroke="#000" stroke-width="1" />
<path d="M282.30 1050.01A185.15 185.15 0 0 0 288.13 1057.14L299.01 1047.78A170.8 170.8 0 0 1 293.63 1041.20Z" fill="#fff" stroke="none"/>
<path d="M282.30 1050.01L293.63 1041.20M288.13 1057.14L299.01 1047.78" stroke="#000" stroke-width="1" fill="none" />
<path d="M307.76 1076.77A185.15 185.15 0 0 0 314.89 1082.60L323.70 1071.27A170.8 170.8 0 0 1 317.12 1065.89Z" fill="#fff" stroke="none"/>
<path d="M307.76 1076.77L317.12 1065.89M314.89 1082.60L323.70 1071.27" stroke="#000" stroke-width="1" fill="none" />
<rect x="250.3" y="932.6" width="13.6" height="6.3" rx="0.8" fill="#000"/>
<rect x="259.6" y="938" width="4.2" height="1.6" fill="#000"/>
<rect x="252.5" y="935.1" width="1.6" height="2" fill="#fff"/>
<rect x="256.4" y="935.1" width="1.6" height="2" fill="#fff"/>
<rect x="260.6" y="935.1" width="1.6" height="2" fill="#fff"/>
<rect x="425.8" y="1101.2" width="6" height="13.4" rx="1.6" fill="#000"/>
<rect x="428.1" y="1103.2" width="2.2" height="1.8" fill="#fff"/>
<rect x="428.1" y="1107.1" width="2.2" height="1.8" fill="#fff"/>
<rect x="428.1" y="1111.5" width="2.2" height="1.8" fill="#fff"/>
<g transform="translate(265.28 977.85) rotate(75.8)"><rect x="-3.7" y="-3.9" width="7.4" height="7.4" rx="1.5" fill="#000"/><rect x="-2.2" y="-2.3" width="1.5" height="1.5" fill="#fff"/><rect x="0.9" y="-1.9" width="1.4" height="1.4" fill="#fff"/><rect x="-0.4" y="1.0" width="1.5" height="1.4" fill="#fff"/><rect x="-4.6" y="2.6" width="7.6" height="3.4" fill="#000"/></g>
<g transform="translate(257.29 974.04) rotate(77.6)"><rect x="-3.4" y="-1.4" width="6.8" height="2.9" rx="1.3" fill="#fff" stroke="#000" stroke-width="1.1"/><path d="M-3 -1.6H3" stroke="#000" stroke-width="1.2"/></g>
<g transform="translate(260.08 985.01) rotate(73.9)"><rect x="-3.4" y="-1.4" width="6.8" height="2.9" rx="1.3" fill="#fff" stroke="#000" stroke-width="1.1"/><path d="M-3 -1.6H3" stroke="#000" stroke-width="1.2"/></g>
<g transform="translate(288.81 1030.45) rotate(56.0)"><rect x="-3.7" y="-3.9" width="7.4" height="7.4" rx="1.5" fill="#000"/><rect x="-2.2" y="-2.3" width="1.5" height="1.5" fill="#fff"/><rect x="0.9" y="-1.9" width="1.4" height="1.4" fill="#fff"/><rect x="-0.4" y="1.0" width="1.5" height="1.4" fill="#fff"/><rect x="-4.6" y="2.6" width="7.6" height="3.4" fill="#000"/></g>
<g transform="translate(280.00 1029.55) rotate(57.9)"><rect x="-3.4" y="-1.4" width="6.8" height="2.9" rx="1.3" fill="#fff" stroke="#000" stroke-width="1.1"/><path d="M-3 -1.6H3" stroke="#000" stroke-width="1.2"/></g>
<g transform="translate(286.32 1038.94) rotate(54.2)"><rect x="-3.4" y="-1.4" width="6.8" height="2.9" rx="1.3" fill="#fff" stroke="#000" stroke-width="1.1"/><path d="M-3 -1.6H3" stroke="#000" stroke-width="1.2"/></g>
<g transform="translate(334.45 1076.09) rotate(34.0)"><rect x="-3.7" y="-3.9" width="7.4" height="7.4" rx="1.5" fill="#000"/><rect x="-2.2" y="-2.3" width="1.5" height="1.5" fill="#fff"/><rect x="0.9" y="-1.9" width="1.4" height="1.4" fill="#fff"/><rect x="-0.4" y="1.0" width="1.5" height="1.4" fill="#fff"/><rect x="-4.6" y="2.6" width="7.6" height="3.4" fill="#000"/></g>
<g transform="translate(325.96 1078.58) rotate(35.8)"><rect x="-3.4" y="-1.4" width="6.8" height="2.9" rx="1.3" fill="#fff" stroke="#000" stroke-width="1.1"/><path d="M-3 -1.6H3" stroke="#000" stroke-width="1.2"/></g>
<g transform="translate(335.35 1084.90) rotate(32.1)"><rect x="-3.4" y="-1.4" width="6.8" height="2.9" rx="1.3" fill="#fff" stroke="#000" stroke-width="1.1"/><path d="M-3 -1.6H3" stroke="#000" stroke-width="1.2"/></g>
<g transform="translate(387.05 1099.62) rotate(14.2)"><rect x="-3.7" y="-3.9" width="7.4" height="7.4" rx="1.5" fill="#000"/><rect x="-2.2" y="-2.3" width="1.5" height="1.5" fill="#fff"/><rect x="0.9" y="-1.9" width="1.4" height="1.4" fill="#fff"/><rect x="-0.4" y="1.0" width="1.5" height="1.4" fill="#fff"/><rect x="-4.6" y="2.6" width="7.6" height="3.4" fill="#000"/></g>
<g transform="translate(379.89 1104.82) rotate(16.1)"><rect x="-3.4" y="-1.4" width="6.8" height="2.9" rx="1.3" fill="#fff" stroke="#000" stroke-width="1.1"/><path d="M-3 -1.6H3" stroke="#000" stroke-width="1.2"/></g>
<g transform="translate(390.86 1107.61) rotate(12.4)"><rect x="-3.4" y="-1.4" width="6.8" height="2.9" rx="1.3" fill="#fff" stroke="#000" stroke-width="1.1"/><path d="M-3 -1.6H3" stroke="#000" stroke-width="1.2"/></g>
<g transform="translate(299.58 1041.92) rotate(50.7)"><path d="M-2.7 0 C-2.1 -4.5 -3.4 -8 -5.5 -10.8 Q0 -14 5.5 -10.8 C3.4 -8 2.1 -4.5 2.7 0Z" fill="#fff" stroke="#000" stroke-width="1"/><path d="M-6.8 1H6.8" stroke="#000" stroke-width="3"/></g>
<g transform="translate(323.20 1065.51) rotate(39.2)"><path d="M-2.7 0 C-2.1 -4.5 -3.4 -8 -5.5 -10.8 Q0 -14 5.5 -10.8 C3.4 -8 2.1 -4.5 2.7 0Z" fill="#fff" stroke="#000" stroke-width="1"/><path d="M-6.8 1H6.8" stroke="#000" stroke-width="3"/></g>
<g transform="translate(307.04 1052.47) rotate(46.3)"><ellipse cx="0" cy="0" rx="3.7" ry="2.5" fill="#000"/></g>
<g transform="translate(312.98 1057.28) rotate(43.7)"><ellipse cx="0" cy="0" rx="3.7" ry="2.5" fill="#000"/></g>
<path d="M248.4 854V869.3H251.5V865.9H254.4" stroke="#000" stroke-width="1.4" fill="none" />
<rect x="256" y="860.5" width="2.9" height="5.2" fill="#000"/>
<rect x="249.9" y="854.4" width="2.6" height="2" fill="#fff" stroke="#000" stroke-width="1.1"/>
<line x1="254.4" y1="854.5" x2="261" y2="854.5" stroke="#000" stroke-width="1" />
<path d="M246.9 856.5Q246.3 862 247 867" stroke="#999" stroke-width="0.8" fill="none" />
<path d="M645 1110.5H630.4V1112M632.9 1111V1113.6M630 1113.6V1117.4Q636 1118.6 644 1118" stroke="#000" stroke-width="1.2" fill="none" />
<rect x="634.4" y="1107.5" width="4.2" height="2" rx="0.9" fill="#fff" stroke="#000" stroke-width="0.9"/>
<rect x="643.3" y="1112.4" width="2" height="3.2" fill="#fff" stroke="#000" stroke-width="0.9"/>
<path d="M288.35 932.73A140.20 140.20 0 0 0 324.80 1030.76" stroke="#000" stroke-width="1.15" fill="none" />
<path d="M292.32 945.85L288.35 932.73L284.93 946.00" stroke="#000" stroke-width="1.1" fill="none" stroke-linejoin="miter"/>
<path d="M313.54 1022.94L324.80 1030.76L319.24 1018.23" stroke="#000" stroke-width="1.1" fill="none" stroke-linejoin="miter"/>
<path d="M333.87 1039.85A140.20 140.20 0 0 0 432.41 1076.55" stroke="#000" stroke-width="1.15" fill="none" />
<path d="M346.39 1045.44L333.87 1039.85L341.66 1051.13" stroke="#000" stroke-width="1.1" fill="none" stroke-linejoin="miter"/>
<path d="M419.15 1079.99L432.41 1076.55L419.29 1072.59" stroke="#000" stroke-width="1.1" fill="none" stroke-linejoin="miter"/>
<text transform="translate(330.40 1021.80) scale(0.904 1)" font-size="25.1">475</text>
<text transform="translate(304.30 1149.80) scale(0.888 1)" font-size="25.1">R550</text>
<path d="M343.6 1152.7H357.5L370.7 1113.1" stroke="#000" stroke-width="0.8" fill="none" />
<path d="M369.97 1126.03L370.70 1113.10L363.52 1123.88" stroke="#000" stroke-width="0.8" fill="none" stroke-linejoin="miter"/>
</svg>
</body></html>
